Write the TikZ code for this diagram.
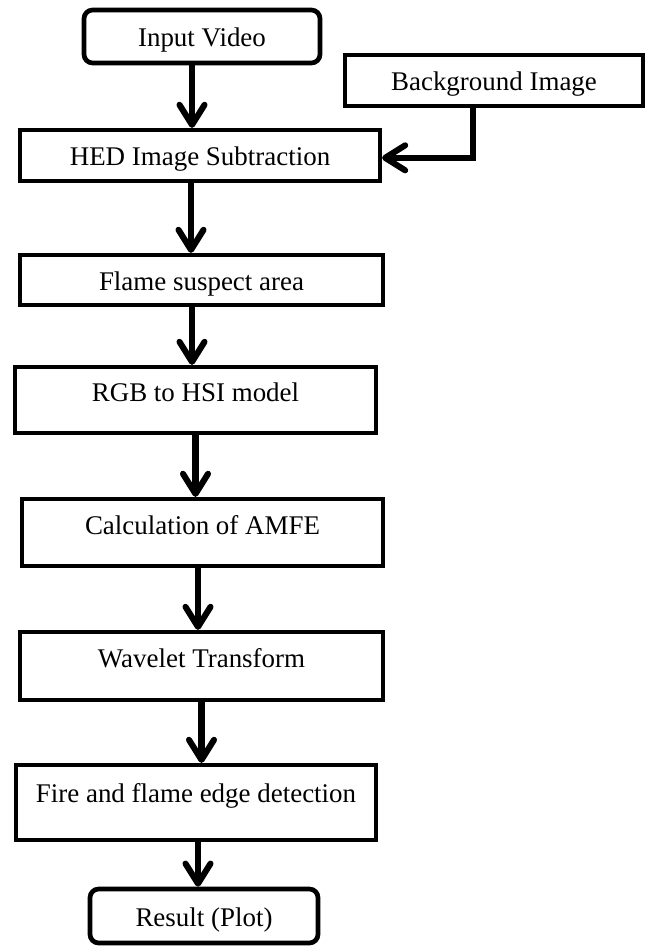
\documentclass[tikz,border=0pt]{standalone}
\usepackage{fontspec}
\setmainfont{Liberation Serif}
\usetikzlibrary{arrows.meta}
\begin{document}
\begin{tikzpicture}[x=0.3mm,y=-0.3mm,
    box/.style={draw,line width=3.6pt,rectangle,inner sep=0pt,text height=6.5mm,text depth=0.5mm,font=\fontsize{23}{27}\selectfont},
    tallbox/.style={box,text depth=5.5mm},
    term/.style={box,rounded corners=2.6mm,line width=4pt},
    arr/.style={line width=5.2pt,-{Straight Barb[length=6mm,width=7.5mm,line cap=round,line join=round]}}]
                \useasboundingbox (0,0) rectangle (649,948) ;
                \node[term,minimum width=70.8mm,minimum height=15.9mm] (in) at (202,36.5) {Input Video} ;
                \node[box,minimum width=89.4mm,minimum height=15.3mm] (bg) at (494,80.5) {Background Image} ;
                \node[box,minimum width=108mm,minimum height=15.3mm] (hed) at (200,155.5) {HED Image Subtraction} ;
                \node[box,minimum width=108.9mm,minimum height=15mm] (fsa) at (201.5,280) {Flame suspect area} ;
                \node[tallbox,minimum width=108.3mm,minimum height=19.8mm] (rgb) at (195.5,400) {RGB to HSI model} ;
                \node[tallbox,minimum width=108.3mm,minimum height=20.1mm] (amfe) at (202.5,532.5) {Calculation of AMFE} ;
                \node[tallbox,minimum width=108.9mm,minimum height=20.4mm] (wav) at (201.5,666) {Wavelet Transform} ;
                \node[tallbox,minimum width=108mm,minimum height=22.5mm,text depth=6.5mm] (fire) at (196,802.5) {Fire and flame edge detection} ;
                \node[term,minimum width=68.4mm,minimum height=16.2mm] (res) at (204,916) {Result (Plot)} ;
                \draw[arr] ([xshift=-3mm]in.south) -- ([xshift=-3mm]in.south |- hed.north) ;
                \draw[arr] ([xshift=-6.3mm]bg.south) |- ([yshift=-0.7mm]hed.east) ;
                \draw[arr] ([xshift=-2.7mm]hed.south) -- ([xshift=-2.7mm]hed.south |- fsa.north) ;
                \draw[arr] ([xshift=-2.85mm]fsa.south) -- ([xshift=-2.85mm]fsa.south |- rgb.north) ;
                \draw[arr] (rgb.south) -- (rgb.south |- amfe.north) ;
                \draw[arr] ([xshift=-1.35mm]amfe.south) -- ([xshift=-1.35mm]amfe.south |- wav.north) ;
                \draw[arr] (wav.south) -- (wav.south |- fire.north) ;
                \draw[arr] ([xshift=0.6mm]fire.south) -- ([xshift=0.6mm]fire.south |- res.north) ;
\end{tikzpicture}
\end{document}
